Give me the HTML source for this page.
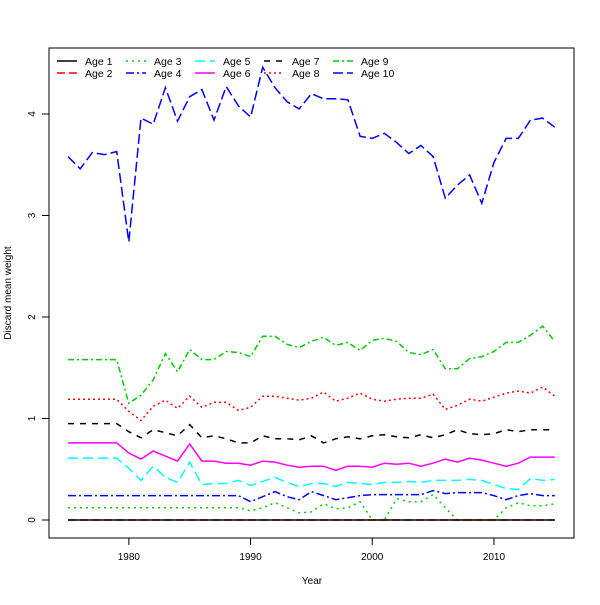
<!DOCTYPE html>
<html><head><meta charset="utf-8"><style>
body{margin:0;background:#fff}
svg{font-family:"Liberation Sans",Arial,sans-serif}
</style></head><body>
<svg id="chart" width="600" height="600"></svg>
<script>
const years=[];for(let y=1975;y<=2015;y++)years.push(y);
const age1=new Array(41).fill(0);
const age2=new Array(41).fill(0);
const age3=[.12,.12,.12,.12,.12,.12,.12,.12,.12,.12,.12,.12,.12,.12,.12,.09,.12,.17,.12,.07,.08,.16,.11,.12,.18,0,0,.21,.18,.18,.25,.12,0,0,0,0,.12,.17,.14,.14,.16];
const age4=[.24,.24,.24,.24,.24,.24,.24,.24,.24,.24,.24,.24,.24,.24,.24,.18,.23,.28,.23,.20,.28,.24,.20,.22,.24,.25,.25,.25,.25,.25,.29,.26,.27,.27,.27,.24,.20,.24,.26,.24,.24];
const age5=[.61,.61,.61,.61,.61,.51,.39,.53,.42,.37,.57,.35,.36,.36,.39,.34,.38,.42,.37,.33,.36,.36,.33,.37,.36,.35,.37,.37,.38,.37,.39,.39,.39,.40,.39,.35,.31,.30,.41,.39,.40];
const age6=[.76,.76,.76,.76,.76,.66,.60,.68,.63,.58,.75,.58,.58,.56,.56,.54,.58,.57,.54,.52,.53,.53,.49,.53,.53,.52,.56,.55,.56,.53,.56,.60,.57,.61,.59,.56,.53,.56,.62,.62,.62];
const age7=[.95,.95,.95,.95,.95,.87,.81,.89,.86,.83,.94,.81,.83,.80,.76,.76,.83,.80,.80,.79,.83,.76,.80,.82,.80,.83,.84,.82,.81,.84,.81,.84,.89,.85,.84,.85,.89,.87,.89,.89,.89];
const age8=[1.19,1.19,1.19,1.19,1.19,1.07,.98,1.12,1.18,1.10,1.22,1.11,1.16,1.16,1.08,1.11,1.22,1.22,1.20,1.18,1.20,1.26,1.17,1.20,1.25,1.19,1.17,1.19,1.20,1.20,1.24,1.09,1.13,1.19,1.17,1.21,1.25,1.27,1.25,1.31,1.22];
const age9=[1.58,1.58,1.58,1.58,1.58,1.15,1.23,1.38,1.64,1.46,1.68,1.58,1.58,1.66,1.65,1.61,1.81,1.81,1.73,1.70,1.76,1.80,1.72,1.75,1.67,1.77,1.79,1.76,1.65,1.63,1.68,1.49,1.49,1.59,1.61,1.66,1.75,1.75,1.82,1.91,1.76];
const age10=[3.58,3.46,3.62,3.60,3.63,2.74,3.96,3.90,4.26,3.93,4.17,4.24,3.94,4.27,4.08,3.97,4.46,4.26,4.12,4.05,4.20,4.15,4.15,4.14,3.78,3.76,3.81,3.72,3.61,3.69,3.58,3.17,3.30,3.40,3.12,3.52,3.76,3.76,3.94,3.96,3.87];
const xTicks=[1980,1990,2000,2010];
const yTicks=[0,1,2,3,4];
const seriesNames=["Age 1","Age 2","Age 3","Age 4","Age 5","Age 6","Age 7","Age 8","Age 9","Age 10"];
const seriesData=[age1,age2,age3,age4,age5,age6,age7,age8,age9,age10];
const colors=["#000","#f00","#0c0","#00f","#0ff","#f0f","#000","#f00","#0c0","#00f"];
const dashes=["","8,4","2,4","8,3,2,3","10,5","","6,6","2,3","6,3,2,3","10,4"];
const X=v=>68+(v-1975)*12.17;
const Y=v=>520-v*101.5;
const NS="http://www.w3.org/2000/svg";
const svg=document.getElementById('chart');
function mk(t,a){const e=document.createElementNS(NS,t);for(const k in a)e.setAttribute(k,a[k]);svg.appendChild(e);return e;}
const frame=mk('rect',{x:49,y:48,width:525,height:490,fill:'none',stroke:'#000','stroke-width':1});


for(let i=seriesData.length-1;i>=0;i--){
 const d=seriesData[i].map((v,j)=>(j?'L':'M')+X(years[j]).toFixed(1)+','+Y(v).toFixed(1)).join('');
 const p=mk('path',{d:d,fill:'none',stroke:colors[i],'stroke-width':1.5,'stroke-dasharray':dashes[i]});
 
 
}
xTicks.forEach(t=>{
 const l=mk('line',{x1:X(t),x2:X(t),y1:538,y2:545,stroke:'#000'});
 
 
 const tx=mk('text',{x:X(t),y:560,'font-size':10,'text-anchor':'middle'});tx.textContent=t;
 
 
});
yTicks.forEach(t=>{
 const l=mk('line',{x1:42,x2:49,y1:Y(t),y2:Y(t),stroke:'#000'});
 
 
 const tx=mk('text',{x:35,y:Y(t),'font-size':10,'text-anchor':'middle',transform:`rotate(-90 35 ${Y(t)})`});tx.textContent=t;
 
 
});
const xt=mk('text',{x:312,y:584,'font-size':10,'text-anchor':'middle'});xt.textContent='Year';


const yt=mk('text',{x:11,y:293,'font-size':10,'text-anchor':'middle',transform:'rotate(-90 11 293)'});yt.textContent='Discard mean weight';


seriesNames.forEach((n,i)=>{
 const col=Math.floor(i/2),row=i%2;
 const lx=57+col*69,ly=61+row*12;
 const l=mk('line',{x1:lx,x2:lx+20,y1:ly,y2:ly,stroke:colors[i],'stroke-width':1.5,'stroke-dasharray':dashes[i]});
 
 
 const t=mk('text',{x:lx+28,y:ly+4,'font-size':10.5});t.textContent=n;
 
 
});
</script>
</body></html>
